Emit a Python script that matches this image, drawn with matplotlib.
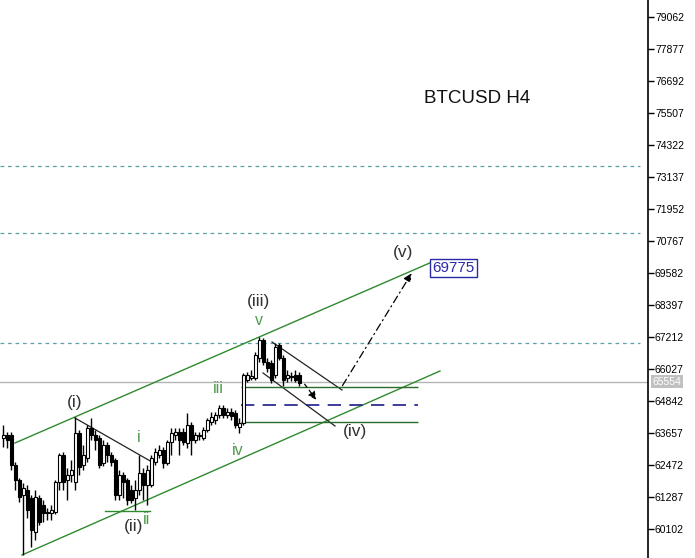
import matplotlib
matplotlib.use("Agg")
import matplotlib.pyplot as plt

plt.rcParams['font.family'] = ['Liberation Sans', 'DejaVu Sans']

# ---- candles (H4 bars) ----
opens = [63473, 63584, 63584, 62473, 61918, 61362, 61547, 61251, 59992, 61251,
         60992, 60733, 60696, 60733, 61844, 62843, 61918, 62103, 61844, 63658,
         62473, 62732, 63843, 63584, 63473, 62547, 63214, 62843, 62658, 61362,
         62103, 61918, 61547, 61251, 61547, 62177, 61732, 61732, 62584, 62843,
         63028, 62547, 63325, 63584, 63695, 63695, 63288, 63954, 63399, 63547,
         63473, 63769, 64065, 64139, 64325, 64584, 64325, 64436, 64399, 63880,
         64028, 65621, 65695, 65695, 66435, 67102, 66287, 66250, 65806, 66917,
         66435, 65695, 65769, 65806, 65806]
highs = [63954, 63695, 63695, 62584, 61992, 61807, 61732, 61362, 61547, 61362,
         61177, 60881, 60992, 61918, 62917, 62954, 62362, 62658, 64250, 63769,
         63214, 63954, 64213, 63769, 63584, 63399, 63325, 62954, 62732, 62288,
         62214, 61992, 61732, 61918, 62843, 62362, 62473, 62843, 63103, 63214,
         63140, 63399, 63843, 63843, 63843, 63843, 64399, 64065, 63695, 63695,
         63880, 64213, 64436, 64436, 64695, 64695, 64584, 64584, 64510, 64213,
         65880, 65917, 65991, 66657, 67213, 67176, 66435, 66361, 66991, 66991,
         66546, 65991, 65917, 65991, 65917]
lows = [63140, 63103, 62288, 61547, 61103, 59140, 60510, 59437, 59696, 60251,
        60362, 60436, 60436, 60659, 61547, 61547, 61177, 61844, 61547, 62103,
        62288, 62584, 63399, 63028, 62362, 62436, 62584, 62436, 61177, 61177,
        61251, 60992, 61066, 60807, 61362, 61177, 60992, 61658, 62473, 62732,
        62362, 62473, 62843, 63399, 62843, 63214, 63103, 62843, 63288, 63399,
        63399, 63695, 63954, 63991, 64213, 64213, 64213, 64139, 63843, 63658,
        63954, 65547, 65621, 65621, 66287, 66176, 65917, 65510, 65695, 66361,
        65398, 65547, 65584, 65547, 65398]
closes = [63584, 63399, 62473, 61918, 61288, 61621, 60807, 60066, 61288, 60362,
          60696, 60696, 60807, 61844, 62843, 61844, 62103, 62288, 63658, 62399,
          62843, 63843, 63584, 63399, 62473, 63214, 62843, 62584, 61362, 62103,
          61844, 61177, 61177, 61547, 62177, 61732, 62288, 62732, 62954, 63028,
          62547, 63325, 63658, 63695, 63399, 63325, 63954, 63399, 63584, 63560,
          63769, 64139, 64250, 64325, 64584, 64325, 64436, 64288, 63954, 64028,
          65806, 65806, 65769, 66546, 67102, 66287, 66065, 65621, 66843, 66435,
          65621, 65806, 65732, 65621, 65510]

# ---- price scale ----
tick_prices = [79062, 77877, 76692, 75507, 74322, 73137, 71952, 70767, 69582,
               68397, 67212, 66027, 64842, 63657, 62472, 61287, 60102]
level_lines = [73545, 71064, 66990]
last_price = 65554
target_price = 69775

# ---- wave markup (bar index, price) ----
chan_upper_x, chan_upper_y = [3, 107.25], [63288, 69990]
chan_lower_x, chan_lower_y = [4.75, 109.25], [59140, 65954]
trend_i_x, trend_i_y = [18, 37.25], [64213, 62584]
ii_line_x, ii_line_y = [25.5, 36.75], [60760, 60760]
iv_up_x, iv_up_y = [67.25, 84.75], [67028, 65250]
iv_lo_x, iv_lo_y = [65, 83], [65880, 63917]
zone_x = [59.5, 103.75]
zone_top, zone_mid, zone_bot = 65361, 64695, 64065
arrow_down = [(75, 65547), (78.75, 64806)]
arrow_up = [(84.5, 65324), (102.5, 69657)]

wave_labels = [("(i)", 18, 64769), ("(ii)", 32.75, 60177), ("(iii)", 64, 68509),
               ("(iv)", 88, 63695), ("(v)", 100, 70324)]
sub_labels = [("i", 34, 63473), ("ii", 36, 60473), ("iii", 53.75, 65288),
              ("iv", 58.75, 63028), ("v", 64, 67806)]

fig = plt.figure(figsize=(6.95, 5.58), dpi=100)
ax = fig.add_axes([0, 0, 648 / 695, 1])
ax.set_xlim(-0.75, 161.25)
ax.set_ylim(59029, 79692)

# horizontal levels
ax.hlines(level_lines, -0.75, 159.25, colors='#5aa3ad', linestyles=(0, (3, 3)), linewidth=0.9)
ax.axhline(last_price, color='#b4b4b4', linewidth=1)

# candles
for i in range(len(opens)):
    o, h, l, c = opens[i], highs[i], lows[i], closes[i]
    ax.vlines(i, l, h, color='black', linewidth=1, zorder=3)
    bottom = min(o, c)
    height = max(abs(c - o), 25)
    face = 'white' if c >= o else 'black'
    ax.bar(i, height, bottom=bottom, width=0.75, color=face, edgecolor='black',
           linewidth=0.8, zorder=4)

# channel + markup
green = '#2f8a2f'
ax.plot(chan_upper_x, chan_upper_y, color=green, linewidth=1)
ax.plot(chan_lower_x, chan_lower_y, color=green, linewidth=1)
ax.plot(trend_i_x, trend_i_y, color='#222222', linewidth=0.9)
ax.plot(ii_line_x, ii_line_y, color=green, linewidth=1)
ax.plot(iv_up_x, iv_up_y, color='#222222', linewidth=0.9)
ax.plot(iv_lo_x, iv_lo_y, color='#222222', linewidth=0.9)
ax.hlines([zone_top, zone_bot], zone_x[0], zone_x[1], colors='#2a6a2a', linewidth=1)
ax.hlines(zone_mid, zone_x[0], zone_x[1], colors='#1c1c8a', linestyles=(0, (8, 5)), linewidth=1.2)

ax.annotate('', xy=arrow_down[1], xytext=arrow_down[0],
            arrowprops=dict(arrowstyle='-|>', color='black', lw=0.9, linestyle=(0, (3, 3)),
                            mutation_scale=12))
ax.annotate('', xy=arrow_up[1], xytext=arrow_up[0],
            arrowprops=dict(arrowstyle='-|>', color='black', lw=0.9,
                            linestyle=(0, (6, 3, 1, 3)), mutation_scale=12))

for txt, x, y in wave_labels:
    ax.text(x, y, txt, fontsize=12.5, color='#333333', ha='center', va='center')
for txt, x, y in sub_labels:
    ax.text(x, y, txt, fontsize=11.5, color='#4f9a4f', ha='center', va='center')

ax.text(118.5, 76063, 'BTCUSD H4', fontsize=13.5, color='#111111', ha='center', va='center')
ax.text(112.6, target_price, str(target_price), fontsize=11, color='#2a2aa8', ha='center',
        va='center', bbox=dict(boxstyle='square,pad=0.15', fc='white', ec='#2a2aa8', lw=1))

# right price axis
for s in ['left', 'top', 'bottom']:
    ax.spines[s].set_visible(False)
ax.spines['right'].set_linewidth(1.2)
ax.set_xticks([])
ax.yaxis.tick_right()
ax.set_yticks(tick_prices)
ax.set_yticklabels([str(p) for p in tick_prices])
ax.tick_params(axis='y', length=4, width=1, pad=1, labelsize=7.5, colors='black')
ax.text(1.007, last_price, str(last_price), transform=ax.get_yaxis_transform(),
        fontsize=7.5, color='white', ha='left', va='center', clip_on=False,
        bbox=dict(boxstyle='square,pad=0.15', fc='#c0c0c0', ec='none'))

fig.savefig('out.png', dpi=100)
